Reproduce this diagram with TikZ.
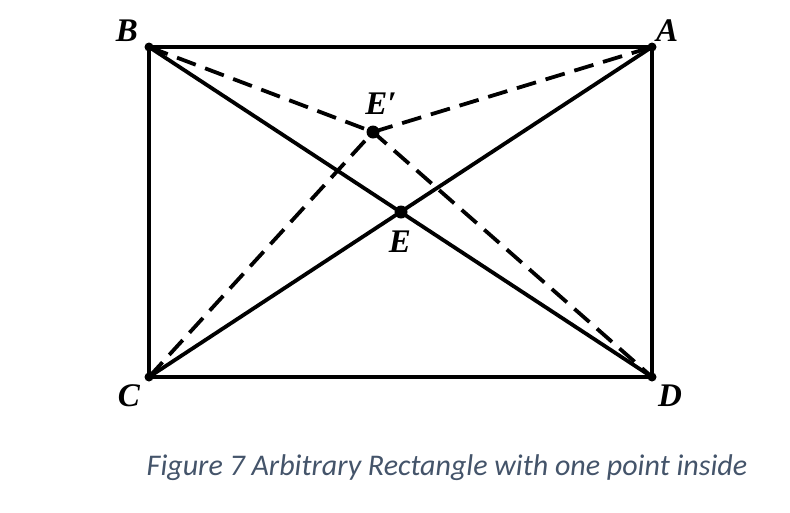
\documentclass[tikz,border=0pt]{standalone}
\usepackage{fontspec}
\setmainfont{Liberation Serif}
\newfontfamily\captionfont{Carlito}
\definecolor{captionblue}{HTML}{44546A}
\tikzset{
  edge/.style={line width=3.8pt},
  dashedge/.style={line width=3.8pt, dash pattern=on 20pt off 10pt},
  dot/.style={circle, fill=black, inner sep=0pt, minimum size=13pt},
  ptlabel/.style={font=\fontsize{33}{36}\selectfont\bfseries\itshape}
}
\begin{document}
\begin{tikzpicture}[x=1pt,y=-1pt]
\useasboundingbox (0,0) rectangle (790,512);
\coordinate (B) at (149,47);
\coordinate (A) at (652,47);
\coordinate (C) at (149,377);
\coordinate (D) at (652,377);
\node[dot] (E) at (401,212) {};
\node[dot] (E') at (373,132) {};
\draw[edge] (B) -- (A) -- (D) -- (C) -- cycle;
\draw[edge] (B) -- (D);
\draw[edge] (C) -- (A);
\draw[dashedge] (B) -- (E'.center) -- (A);
\draw[dashedge] (C) -- (E'.center) -- (D);
\foreach \p in {A,B,C,D} \fill (\p) circle (4.5pt);
\node[ptlabel] at (127,31) {B};
\node[ptlabel] at (667,31) {A};
\node[ptlabel] at (129,396) {C};
\node[ptlabel] at (670,396) {D};
\node[ptlabel] at (400,242) {E};
\node[ptlabel] at (381,104) {E′};
\node[font=\captionfont\itshape\fontsize{30}{34}\selectfont, text=captionblue] (caption) at (447,468) {Figure 7 Arbitrary Rectangle with one point inside};
\end{tikzpicture}
\end{document}
